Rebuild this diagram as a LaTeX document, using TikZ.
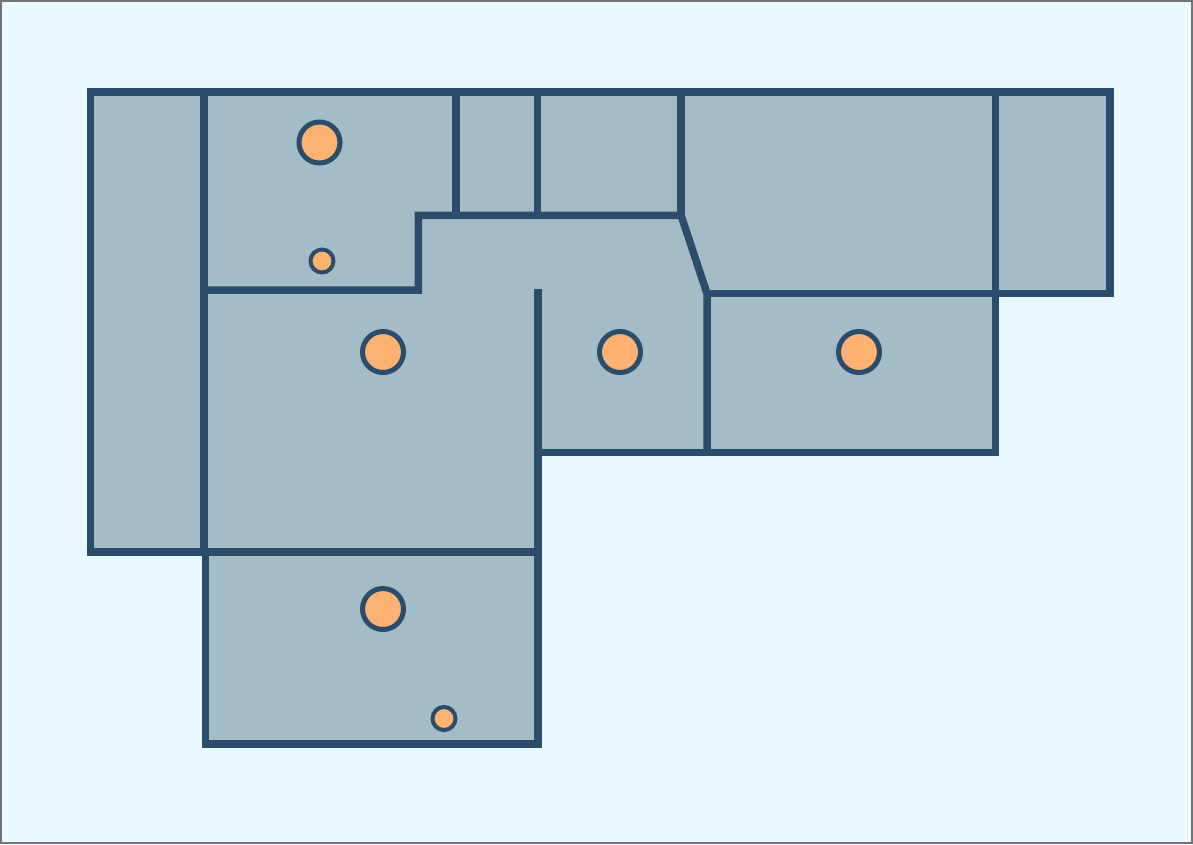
\documentclass[tikz,border=0pt]{standalone}
\definecolor{sky}{HTML}{EAF8FF}
\definecolor{floorc}{HTML}{A3BCC6}
\definecolor{wallc}{HTML}{2A4D6B}
\definecolor{lampc}{HTML}{FDB272}
\begin{document}
\begin{tikzpicture}[
  x=1pt,y=-1pt,
  frame/.style={draw=black!55,line width=2pt,fill=sky},
  floorplan/.style={fill=floorc},
  wall/.style={draw=wallc,line width=7.5pt},
  biglamp/.style={draw=wallc,line width=5pt,fill=lampc},
  smalllamp/.style={draw=wallc,line width=4pt,fill=lampc},
]
\useasboundingbox (0,0) rectangle (1193,844);
\draw[frame] (1,1) rectangle (1192,843);
\fill[floorplan] (90.5,92)--(1110,92)--(1110,293.5)--(995.5,293.5)--(995.5,452.5)--(538,452.5)--(538,744)--(205.5,744)--(205.5,552)--(90.5,552)--cycle;
\draw[wall] (538,552)--(90.5,552)--(90.5,92)--(1110,92)--(1110,293.5)--(707,293.5);
\draw[wall] (204,92)--(204,552);
\draw[wall] (205.5,552)--(205.5,744)--(538,744)--(538,289);
\draw[wall] (204,290)--(418.3,290)--(418.3,215.3)--(681,215.3)--(707,293.5)--(707,452.5);
\draw[wall] (456,92)--(456,215.3);
\draw[wall] (537.5,92)--(537.5,215.3);
\draw[wall] (681,92)--(681,215.3);
\draw[wall] (995.5,92)--(995.5,452.5)--(538,452.5);
\draw[biglamp] (319.5,142.5) circle (20.5);
\draw[biglamp] (383,352) circle (20.5);
\draw[biglamp] (620,352) circle (20.5);
\draw[biglamp] (859,352) circle (20.5);
\draw[biglamp] (383,609) circle (20.5);
\draw[smalllamp] (322,261) circle (11.5);
\draw[smalllamp] (444,718.5) circle (11.5);
\end{tikzpicture}
\end{document}
